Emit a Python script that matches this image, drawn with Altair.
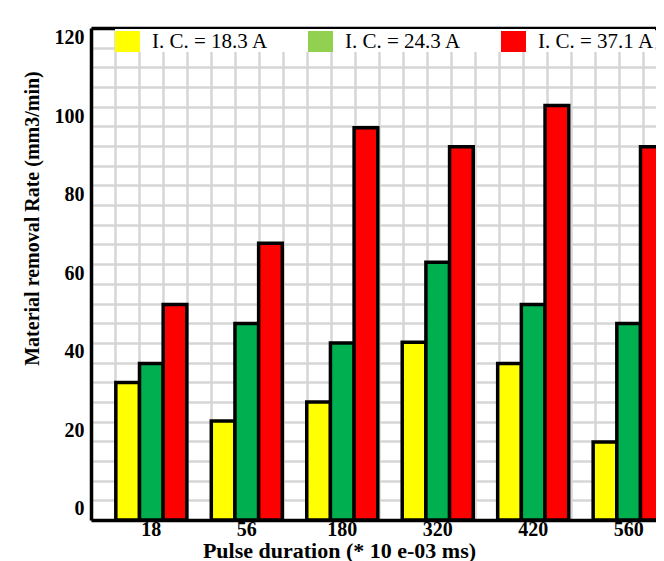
import altair as alt
import pandas as pd

# ---- data ----
pulse = ["18", "56", "180", "320", "420", "560"]
series = ["I. C. = 18.3 A", "I. C. = 24.3 A", "I. C. = 37.1 A"]
mrr_18_3 = [32.2, 22.4, 27.2, 42.4, 37.0, 17.0]
mrr_24_3 = [37.0, 47.2, 42.2, 62.8, 52.0, 47.2]
mrr_37_1 = [52.0, 67.6, 97.0, 92.2, 102.7, 92.2]
bar_colors = ["#ffff00", "#00b050", "#ff0000"]
legend_colors = ["#ffff00", "#92d050", "#ff0000"]
y_ticks = [0, 20, 40, 60, 80, 100, 120]

rows = []
for s, vals in zip(series, [mrr_18_3, mrr_24_3, mrr_37_1]):
    for p, v in zip(pulse, vals):
        rows.append({"pulse": p, "series": s, "mrr": v})
df = pd.DataFrame(rows)
leg_df = pd.DataFrame({"series": series})

W, H = 565, 492
Y_MIN, Y_MAX = -2.83, 122.4
FONT = "Liberation Serif"

bars = alt.Chart(df).mark_bar(stroke="black", strokeWidth=3.5, opacity=1, clip=True).encode(
    x=alt.X(
        "pulse:N",
        sort=pulse,
        scale=alt.Scale(range=[0, 598], paddingInner=0.256, paddingOuter=0.26),
        axis=alt.Axis(
            title="Pulse duration (* 10 e-03 ms)",
            titleFont=FONT, titleFontSize=22, titleFontWeight="bold", titleColor="black",
            titleX=248, titleY=37, titleAlign="center", titleBaseline="alphabetic",
            labelFont=FONT, labelFontSize=20, labelFontWeight="bold", labelColor="black",
            labelAngle=0, labelPadding=-1,
            ticks=False, tickSize=0, grid=False,
            domainColor="black", domainWidth=3.5,
        ),
    ),
    xOffset=alt.XOffset("series:N", sort=series,
                        scale=alt.Scale(paddingInner=0, paddingOuter=0)),
    y=alt.Y(
        "mrr:Q",
        scale=alt.Scale(domain=[Y_MIN, Y_MAX], nice=False, zero=False),
        axis=alt.Axis(
            values=y_ticks,
            title="Material removal Rate (mm3/min)",
            titleFont=FONT, titleFontSize=20, titleFontWeight="bold", titleColor="black",
            titleAngle=270, titleX=-59, titleY=190, titleAlign="center", titleBaseline="middle",
            labelFont=FONT, labelFontSize=20, labelFontWeight="bold", labelColor="black",
            labelPadding=7, ticks=False, tickSize=0, grid=False,
            domainColor="black", domainWidth=3.5,
        ),
    ),
    y2=alt.datum(Y_MIN),
    color=alt.Color("series:N", sort=series,
                    scale=alt.Scale(domain=series, range=bar_colors), legend=None),
)

legend_layer = alt.Chart(leg_df).mark_square(opacity=0).encode(
    x=alt.X(
        datum=0, type="quantitative",
        scale=alt.Scale(domain=[0, W / 24], nice=False, zero=False),
        axis=alt.Axis(
            orient="top", values=list(range(24)), labels=False, ticks=False, title="",
            grid=True, gridColor="#d6d6d6", gridWidth=2.5,
            domain=True, domainColor="black", domainWidth=3.5,
        ),
    ),
    y=alt.Y(
        datum=0, type="quantitative",
        scale=alt.Scale(domain=[0, 25], nice=False, zero=False),
        axis=alt.Axis(
            orient="right", values=list(range(26)), labels=False, ticks=False, title="",
            grid=True, gridColor="#d6d6d6", gridWidth=2.5, domain=False,
        ),
    ),
    color=alt.Color(
        "series:N", sort=series,
        scale=alt.Scale(domain=series, range=legend_colors),
        legend=alt.Legend(
            title=None, orient="none", legendX=24, legendY=1, direction="horizontal",
            symbolType="M-1,-0.84H1V0.84H-1Z", symbolSize=625, symbolStrokeWidth=0,
            symbolOpacity=1,
            labelFont=FONT, labelFontSize=21, labelColor="black", labelOffset=12,
            labelLimit=400, columnPadding=39, gridAlign="all",
            fillColor="white", padding=0,
        ),
    ),
)

chart = alt.layer(legend_layer, bars).resolve_scale(
    x="independent", y="independent", color="independent"
).properties(
    width=W, height=H,
    autosize=alt.AutoSizeParams(type="none"),
    padding={"left": 83, "top": 20, "right": 0, "bottom": 41},
    background="white",
).configure_view(strokeWidth=0)

chart.save("out.html", embed_options={"renderer": "svg", "actions": False})
